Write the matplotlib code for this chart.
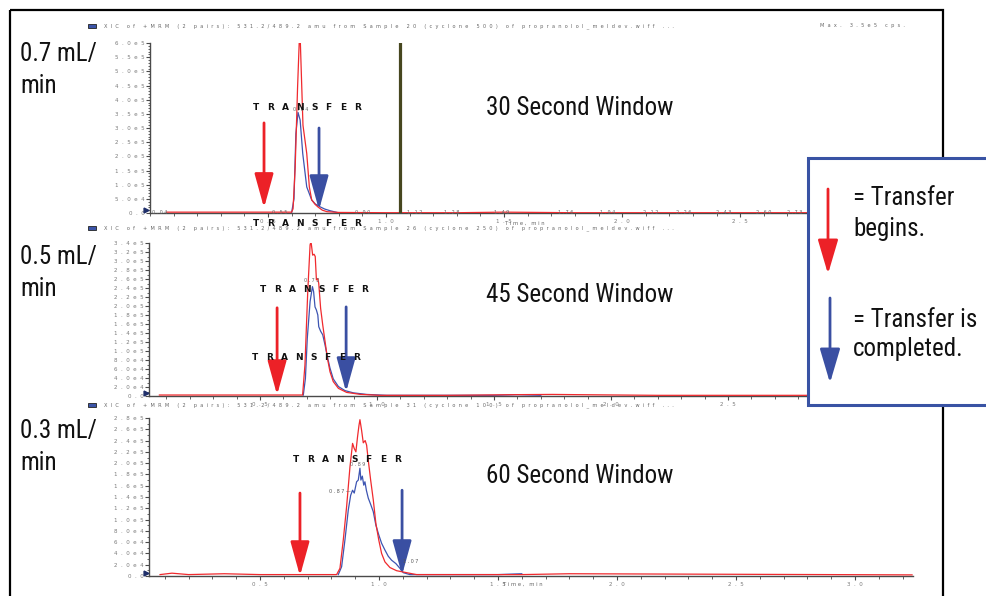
import matplotlib
matplotlib.use("Agg")
import math
import matplotlib.pyplot as plt
from matplotlib.patches import Rectangle, FancyArrowPatch
from matplotlib.ticker import MultipleLocator
from matplotlib.transforms import Affine2D

# ---------------- data ----------------
rate_labels = ["0.7 mL/", "0.5 mL/", "0.3 mL/"]
window_labels = ["30 Second Window", "45 Second Window", "60 Second Window"]
sample_names = ["Sample 20 (cyclone 500)", "Sample 26 (cyclone 250)", "Sample 31 (cyclone 100)"]

# 0.7 mL/min trace (time in min, intensity in cps)
red1_t = [0.07, 0.30, 0.50, 0.600, 0.606, 0.615, 0.625, 0.632, 0.637, 0.648, 0.664, 0.675,
          0.685, 0.700, 0.712, 0.730, 0.750, 0.800, 0.900, 1.00, 1.30, 1.50, 1.80, 2.10, 2.40, 2.80, 3.30]
red1_v = [3e3, 3e3, 3e3, 3e3, 1.5e4, 1.6e5, 4.4e5, 6.0e5, 6.0e5, 3.1e5, 2.1e5, 9.2e4,
          4.6e4, 3.0e4, 2.1e4, 1.0e4, 4.6e3, 2.0e3, 1.5e3, 1.0e3, 1.0e3, 3.0e3, 1.0e3, 1.0e3, 1.0e3, 1.0e3, 1.0e3]
blue1_t = [0.600, 0.610, 0.618, 0.627, 0.636, 0.647, 0.664, 0.685, 0.700, 0.720, 0.740, 0.763, 0.797, 0.850]
blue1_v = [2e3, 5.0e4, 2.8e5, 3.55e5, 3.28e5, 2.1e5, 9.2e4, 4.6e4, 3.2e4, 2.2e4, 1.4e4, 8.0e3, 1.0e3, 0.0]

# 0.5 mL/min trace
red2_t = [0.07, 0.30, 0.50, 0.682, 0.692, 0.704, 0.714, 0.718, 0.725, 0.731, 0.736, 0.741, 0.747,
          0.751, 0.759, 0.768, 0.778, 0.788, 0.799, 0.813, 0.835, 0.870, 0.927, 1.013, 1.30, 1.60, 1.75, 1.85, 2.20, 3.30]
red2_v = [2.2e3, 2.2e3, 2.2e3, 2.2e3, 6.9e4, 2.32e5, 3.36e5, 3.43e5, 3.13e5, 3.15e5, 3.10e5, 2.58e5, 2.61e5,
          2.50e5, 1.95e5, 1.58e5, 1.21e5, 8.4e4, 5.4e4, 3.2e4, 1.7e4, 8.0e3, 3.7e3, 1.5e3, 1.5e3, 3.0e3, 3.5e3, 3.0e3, 1.5e3, 1.5e3]
blue2_t = [0.685, 0.694, 0.702, 0.714, 0.724, 0.729, 0.735, 0.741, 0.747, 0.751, 0.759, 0.768, 0.778,
           0.788, 0.799, 0.813, 0.835, 0.863, 0.899, 0.956, 1.041, 1.50, 1.60, 1.70]
blue2_v = [2.0e3, 3.9e4, 1.28e5, 2.10e5, 2.43e5, 2.32e5, 1.98e5, 1.91e5, 1.80e5, 1.54e5, 1.44e5, 1.36e5, 1.13e5,
           8.7e4, 6.2e4, 3.8e4, 2.1e4, 1.2e4, 7.0e3, 3.5e3, 1.5e3, 1.5e3, 3.0e3, 1.5e3]

# 0.3 mL/min trace
red3_t = [0.08, 0.13, 0.20, 0.35, 0.50, 0.65, 0.822, 0.836, 0.850, 0.864, 0.878, 0.889, 0.896, 0.903, 0.910,
          0.916, 0.920, 0.927, 0.934, 0.942, 0.948, 0.955, 0.965, 0.976, 0.987, 0.999, 1.011, 1.025,
          1.046, 1.074, 1.116, 1.158, 1.60, 1.80, 3.24]
red3_v = [2.5e3, 5.0e3, 2.5e3, 4.0e3, 2.5e3, 2.5e3, 2.5e3, 1.36e4, 6.4e4, 1.23e5, 1.93e5, 2.35e5, 2.26e5, 2.20e5, 2.47e5,
          2.67e5, 2.77e5, 2.58e5, 2.36e5, 2.40e5, 2.32e5, 2.05e5, 1.70e5, 1.35e5, 9.3e4, 6.4e4, 4.0e4, 2.5e4,
          1.5e4, 9.4e3, 5.9e3, 2.5e3, 2.5e3, 4.0e3, 2.0e3]
blue3_t = [0.829, 0.843, 0.857, 0.871, 0.881, 0.889, 0.896, 0.906, 0.913, 0.920, 0.924, 0.930, 0.936, 0.941,
           0.947, 0.955, 0.965, 0.976, 0.987, 0.999, 1.011, 1.025, 1.039, 1.053, 1.071, 1.088, 1.102, 1.130, 1.50, 1.60]
blue3_v = [2.5e3, 1.65e4, 6.4e4, 1.17e5, 1.43e5, 1.52e5, 1.47e5, 1.67e5, 1.70e5, 1.91e5, 1.70e5, 1.77e5, 1.61e5, 1.67e5,
           1.52e5, 1.38e5, 1.27e5, 1.14e5, 9.0e4, 7.3e4, 5.8e4, 4.6e4, 3.5e4, 2.8e4, 2.2e4, 1.36e4, 5.9e3, 2.5e3, 2.5e3, 4.0e3]

red_t = [red1_t, red2_t, red3_t]
red_v = [red1_v, red2_v, red3_v]
blue_t = [blue1_t, blue2_t, blue3_t]
blue_v = [blue1_v, blue2_v, blue3_v]

# transfer start / end markers (time, arrow top, arrow tip)
begin_t = [0.483, 0.573, 0.668]
begin_top = [3.18e5, 1.96e5, 1.47e5]
begin_tip = [1.8e4, 2.2e3, 0.0]
end_t = [0.716, 0.868, 1.097]
end_top = [3.0e5, 1.98e5, 1.52e5]
end_tip = [1.06e4, 8.9e3, 1.8e3]

# axis ranges
y_max = [6.0e5, 3.4e5, 2.8e5]
y_step = [5.0e4, 2.0e4, 2.0e4]
x_ticks = [0.5, 1.0, 1.5, 2.0, 2.5, 3.0]
divert_t = 1.059  # valve switch line on the 0.7 mL/min run

# retention-time annotations: (panel, time, intensity, text)
rt_labels = [
    (0, 0.64, 3.55e5, "0.64"), (0, 0.04, 3e3, "0.04"), (0, 0.55, 3e3, "0.55"),
    (0, 0.90, 3e3, "0.90"), (0, 1.12, 3e3, "1.12"), (0, 1.28, 3e3, "1.28"),
    (0, 1.49, 3e3, "1.49"), (0, 1.76, 3e3, "1.76"), (0, 1.94, 3e3, "1.94"),
    (0, 2.12, 3e3, "2.12"), (0, 2.26, 3e3, "2.26"), (0, 2.43, 3e3, "2.43"),
    (0, 2.60, 3e3, "2.60"), (0, 2.73, 3e3, "2.73"),
    (1, 0.72, 2.51e5, "0.72"),
    (2, 0.91, 1.93e5, "0.89"),
]

# ---------------- drawing ----------------
W, H = 987, 596
fig = plt.figure(figsize=(W / 100, H / 100), dpi=100)
px = Affine2D().scale(1 / W, -1 / H).translate(0, 1) + fig.transFigure

BIG = ["Roboto Condensed", "DejaVu Sans"]
BIG_SIZE = 18
BIG_WEIGHT = "normal"
ARROW_RED, ARROW_BLUE = "#ec2127", "#3a4fa2"
LINE_RED, LINE_BLUE = "#f02a2e", "#3d55b2"
GRAY = "#7a7a7a"
AXIS = "#4a4a4a"


def spaced(s, gap="  "):
    return gap.join(s)


def sci_label(v):
    if v == 0:
        return "0.0"
    e = int(math.floor(math.log10(v) + 1e-9))
    return f"{v / 10 ** e:.1f}e{e}"


# pixel boxes (left, top, right, bottom) and time range of each chromatogram
boxes = [(150, 43, 929, 213), (149, 243, 915, 396), (149, 418, 913, 576)]
x_ranges = [(0.0, 3.3), (0.0256, 3.299), (0.0336, 3.244)]
header_y = [26, 228, 405]

axes = []
for i, (l, t, r, b) in enumerate(boxes):
    ax = fig.add_axes([l / W, 1 - b / H, (r - l) / W, (b - t) / H])
    axes.append(ax)
    ax.set_xlim(*x_ranges[i])
    ax.set_ylim(0, y_max[i])
    for s in ("top", "right"):
        ax.spines[s].set_visible(False)
    for s in ("left", "bottom"):
        ax.spines[s].set_color(AXIS)
        ax.spines[s].set_linewidth(1.0)
    ax.patch.set_alpha(0)

    yt = [k * y_step[i] for k in range(int(round(y_max[i] / y_step[i])) + 1)]
    ax.set_yticks(yt)
    ax.set_yticklabels([spaced(sci_label(v)) for v in yt])
    ax.yaxis.set_minor_locator(MultipleLocator(y_step[i] / (5 if i == 0 else 2)))
    ax.set_xticks(x_ticks)
    ax.set_xticklabels([spaced(f"{v:.1f}") for v in x_ticks])
    ax.xaxis.set_minor_locator(MultipleLocator(0.1))
    ax.tick_params(which="major", direction="out", length=3, width=0.8, color=AXIS,
                   labelsize=4, labelcolor=GRAY, pad=1.0)
    ax.tick_params(which="minor", direction="out", length=1.8, width=0.6, color=AXIS)

    ax.plot(blue_t[i], blue_v[i], color=LINE_BLUE, lw=0.9, zorder=3)
    ax.plot(red_t[i], red_v[i], color=LINE_RED, lw=0.9, zorder=4)

    for tx, top, tip, col in ((begin_t[i], begin_top[i], begin_tip[i], ARROW_RED),
                              (end_t[i], end_top[i], end_tip[i], ARROW_BLUE)):
        ax.add_patch(FancyArrowPatch((tx, top), (tx, tip), transform=ax.transData,
                                     arrowstyle="-|>,head_length=2.1,head_width=0.58",
                                     mutation_scale=10, lw=2.0, color=col,
                                     shrinkA=0, shrinkB=0, zorder=6, clip_on=False))

    # header line
    fig.add_artist(Rectangle((88, header_y[i] - 2), 8, 4, transform=px,
                             facecolor="#3b54a8", edgecolor="#222", lw=0.6))
    head = ("XIC of +MRM (2 pairs): 531.2/489.2 amu from " + sample_names[i]
            + " of propranolol_meldev.wiff ...")
    fig.text(104, header_y[i], spaced(head, "  "), transform=px, fontsize=3.6,
             color="#666", va="center", ha="left")

    # start marker at the origin
    fig.add_artist(plt.Line2D([146], [b - 3], transform=px, marker=">", ms=3.5,
                              color="#1f2f6a", lw=0))

axes[0].axvline(divert_t, color="#47471f", lw=2.3, zorder=5)

for p, tx, v, s in rt_labels:
    axes[p].text(tx, v, spaced(s, " "), fontsize=3.5, color="#666", ha="center",
                 va="bottom" if v > 1e4 else "center", zorder=7)
axes[2].text(0.88, 1.49e5, spaced("0.87", " ") + " \u2014", fontsize=3.5, color="#555",
             ha="right", va="center", zorder=7)
axes[2].text(1.10, 2.5e4, spaced("1.07", " "), fontsize=3.5, color="#555",
             ha="left", va="center", zorder=7)

fig.text(820, 26, spaced("Max. 3.5e5 cps.", "  "), transform=px, fontsize=3.6,
         color="#666", va="center")
for x, y in ((505, 223), (503, 584)):
    fig.text(x, y, spaced("Time, min", " "), transform=px, fontsize=3.8,
             color="#666", va="center")


# transfer labels
def word(x0, y, text, pitch=14.5):
    for k, ch in enumerate(text):
        fig.text(x0 + k * pitch, y, ch, transform=px, fontsize=6.5, weight="bold",
                 color="#111", ha="left", va="center", family="DejaVu Sans")


for x0, y in ((253, 108), (253, 224), (260, 290), (252, 358), (293, 459)):
    word(x0, y, "TRANSFER")

# flow rates and window sizes
rate_base = [61, 264, 438]
window_base = [115, 302, 483]
for i in range(3):
    fig.text(20, rate_base[i], rate_labels[i], transform=px, fontsize=BIG_SIZE,
             family=BIG, weight=BIG_WEIGHT, va="baseline", color="#111")
    fig.text(20, rate_base[i] + 32, "min", transform=px, fontsize=BIG_SIZE,
             family=BIG, weight=BIG_WEIGHT, va="baseline", color="#111")
    fig.text(486, window_base[i], window_labels[i], transform=px, fontsize=BIG_SIZE,
             family=BIG, weight=BIG_WEIGHT, va="baseline", color="#111")

# outer frame
fig.add_artist(Rectangle((10, 10), 933, 600, transform=px, fill=False,
                         edgecolor="black", lw=1.6, zorder=8))

# key box
fig.add_artist(Rectangle((808, 158), 200, 247, transform=px, facecolor="white",
                         edgecolor="#3953a4", lw=2.2, zorder=20))
fig.add_artist(FancyArrowPatch((828, 189), (828, 274), transform=px,
                               arrowstyle="-|>,head_length=2.1,head_width=0.62",
                               mutation_scale=10, lw=2.0, color=ARROW_RED,
                               shrinkA=0, shrinkB=0, zorder=21))
fig.add_artist(FancyArrowPatch((830, 298), (830, 383), transform=px,
                               arrowstyle="-|>,head_length=2.1,head_width=0.62",
                               mutation_scale=10, lw=2.0, color=ARROW_BLUE,
                               shrinkA=0, shrinkB=0, zorder=21))
for y, s in ((205, "= Transfer"), (236, "begins."), (327, "= Transfer is"), (356, "completed.")):
    fig.text(853, y, s, transform=px, fontsize=BIG_SIZE, family=BIG, weight=BIG_WEIGHT,
             va="baseline", color="#111", zorder=22)

fig.savefig("out.png", dpi=100)
